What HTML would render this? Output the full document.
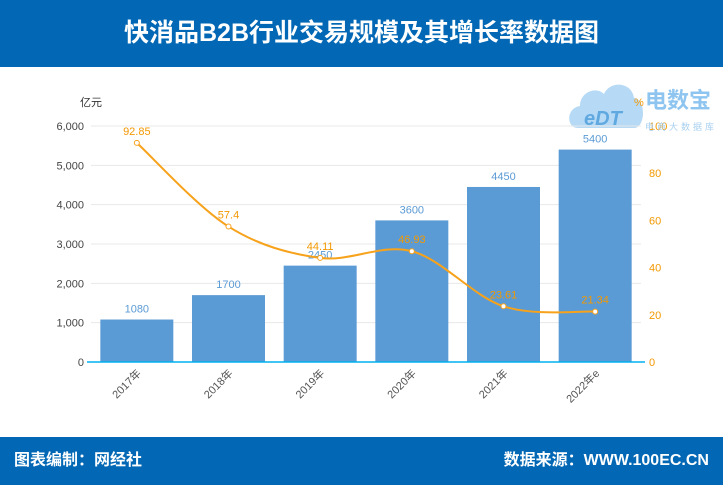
<!DOCTYPE html>
<html><head><meta charset="utf-8"><style>
body{margin:0;width:723px;height:485px;overflow:hidden;background:#fff;font-family:"Liberation Sans","Noto Sans CJK SC",sans-serif;}
#hdr{position:absolute;left:0;top:0;width:723px;height:67px;background:#0267b4;color:#fff;font-size:25px;font-weight:bold;text-align:center;line-height:67px;}
#ftr{position:absolute;left:0;top:437px;width:723px;height:48px;background:#0267b4;color:#fff;font-size:16px;font-weight:bold;line-height:48px;}
svg{position:absolute;left:0;top:0;}
</style></head><body>
<div id="hdr">快消品B2B行业交易规模及其增长率数据图</div>
<div id="ftr"><span style="position:absolute;left:14px">图表编制：网经社</span><span style="position:absolute;right:14px">数据来源：WWW.100EC.CN</span></div>
<svg id="c" width="723" height="485"></svg>
<script>
const categories=["2017年","2018年","2019年","2020年","2021年","2022年e"];
const scaleValues=[1080,1700,2450,3600,4450,5400];
const growthRates=[92.85,57.4,44.11,46.93,23.61,21.34];
const leftTicks=[0,1000,2000,3000,4000,5000,6000];
const leftTickLabels=["0","1,000","2,000","3,000","4,000","5,000","6,000"];
const rightTicks=[0,20,40,60,80,100];
const NS="http://www.w3.org/2000/svg",svg=document.getElementById('c');
const X0=91,X1=641,Y0=362,Y1=126;
const step=(X1-X0)/categories.length;
const xc=i=>X0+step*(i+0.5);
const yL=v=>Y0-(v/6000)*(Y0-Y1);
const yR=v=>Y0-(v/100)*(Y0-Y1);
function el(t,a,txt){const e=document.createElementNS(NS,t);for(const k in a)e.setAttribute(k,a[k]);if(txt!=null)e.textContent=txt;svg.appendChild(e);return e;}
// logo cloud
let cl=el('path',{d:'M578,128 C566,128 566,108 580,106 C580,92 596,86 604,94 C610,80 632,82 634,98 C646,98 646,128 634,128 Z',fill:'#a9d3f5',opacity:0.85});

leftTicks.forEach((v,i)=>{
 if(v>0){const g=el('line',{x1:X0,x2:X1,y1:yL(v),y2:yL(v),stroke:'#e8e8e8'});}
 const t=el('text',{x:84,y:yL(v)+4,'text-anchor':'end','font-size':11,fill:'#444'},leftTickLabels[i]);
 
});
rightTicks.forEach(v=>{const t=el('text',{x:649,y:yR(v)+4,'font-size':11,fill:'#f39800'},String(v));
 });
let a=el('text',{x:80,y:106,'font-size':11,fill:'#333'},'亿元');
a=el('text',{x:634,y:106,'font-size':11,fill:'#f39800'},'%');
const bw=73;
scaleValues.forEach((v,i)=>{
 const r=el('rect',{x:xc(i)-bw/2,y:yL(v),width:bw,height:Y0-yL(v),fill:'#5b9bd5'});
 
 const t=el('text',{x:xc(i),y:yL(v)-7,'text-anchor':'middle','font-size':11,fill:'#5b9bd5'},String(v));
 
 const l=el('text',{transform:`translate(${xc(i)+5},${Y0+12}) rotate(-45)`,'text-anchor':'end','font-size':11,fill:'#555'},categories[i]);
 
});
let ax=el('line',{x1:X0-4,x2:X1+4,y1:Y0,y2:Y0,stroke:'#00b0f0','stroke-width':1.5});
const pts=growthRates.map((v,i)=>[xc(i),yR(v)]);
let d=`M${pts[0][0]},${pts[0][1]}`;
for(let i=0;i<pts.length-1;i++){const p0=pts[i-1]||pts[i],p1=pts[i],p2=pts[i+1],p3=pts[i+2]||p2;
 d+=` C${p1[0]+(p2[0]-p0[0])/6},${p1[1]+(p2[1]-p0[1])/6} ${p2[0]-(p3[0]-p1[0])/6},${p2[1]-(p3[1]-p1[1])/6} ${p2[0]},${p2[1]}`;}
const ln=el('path',{d:d,fill:'none',stroke:'#f7a21b','stroke-width':2});
pts.forEach((p,i)=>{
 const c=el('circle',{cx:p[0],cy:p[1],r:2.5,fill:'#fff',stroke:'#f7a21b','stroke-width':1});
 
 const t=el('text',{x:p[0],y:p[1]-8,'text-anchor':'middle','font-size':11,fill:'#f39800'},String(growthRates[i]));
 
});
let lg=el('text',{x:584,y:125,'font-size':20,'font-weight':'bold',fill:'#5fa8e0','font-style':'italic'},'eDT');
lg=el('text',{x:645,y:108,'font-size':22,'font-weight':'bold',fill:'#8ec5f0'},'电数宝');
lg=el('text',{x:645,y:130,'font-size':9,fill:'#a8d0f0','letter-spacing':3},'电商大数据库');
</script>
</body></html>
